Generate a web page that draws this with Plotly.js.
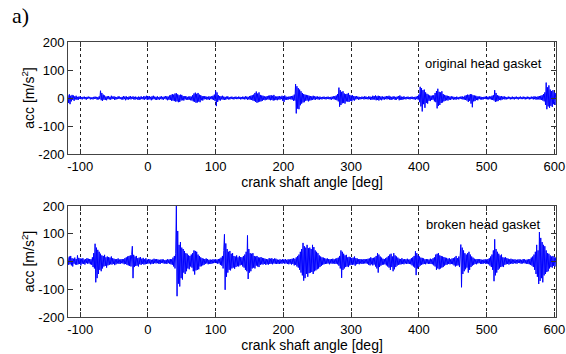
<!DOCTYPE html>
<html>
<head>
<meta charset="utf-8">
<script src="https://cdn.plot.ly/plotly-3.0.1.min.js"></script>
<style>html,body{margin:0;padding:0;background:#fff;}#chart{width:566px;height:354px;}</style>
</head>
<body>
<div id="chart"></div>
<script>
// crank shaft angle sampling grid [deg]
const angleStart = -118;
const angleStep = 1;

// original head gasket, acc [m/s^2], one value per degree from -118
const accOriginal = [
  10,-18,13,-22,8,-12,11,-7,9,-10, 6,-5,8,-6,4,-7,5,-3,6,-4,
  3,-5,4,-2,5,-4,3,-6,4,-3, 5,-2,4,-5,3,-4,2,-5,4,-3,
  5,-3,4,-6,3,-5,6,-4,26,-8, 18,-10,12,-6,9,-7,5,-8,6,-4,
  7,-5,4,-6,8,-4,5,-3,6,-7, 4,-5,3,-4,6,-3,5,-4,3,-5,
  4,-6,7,-4,5,-8,6,-5,3,-6, 5,-4,7,-5,4,-3,6,-5,4,-6,
  5,-4,3,-6,5,-7,4,-5,6,-4, 3,-5,7,-6,5,-4,8,-7,6,-5,
  7,-5,4,-8,6,-5,8,-4,5,-6, 4,-7,6,-5,3,-6,5,-4,6,-5,
  4,-6,5,-3,7,-5,6,-8,5,-6, 9,-7,11,-10,14,-9,12,-11,16,-13,
  17,-12,13,-15,10,-14,12,-9,11,-8, 7,-9,6,-5,7,-6,4,-7,5,-6,
  6,-8,5,-9,10,-12,16,-14,19,-17, 15,-16,18,-13,12,-15,10,-8,7,-9,
  6,-5,7,-4,5,-6,4,-5,6,-7, 5,-4,6,-5,8,-7,12,-10,26,-29,
  20,-14,10,-8,7,-9,6,-5,8,-6, 5,-7,4,-6,5,-4,6,-5,3,-5,
  4,-3,5,-4,3,-5,4,-3,5,-4, 3,-4,5,-3,4,-5,3,-4,5,-4,
  4,-5,6,-4,5,-6,4,-5,7,-6, 8,-7,10,-9,12,-11,18,-14,23,-17,
  16,-15,20,-13,11,-12,9,-10,8,-7, 6,-8,5,-6,7,-5,8,-6,9,-8,
  10,-7,8,-9,11,-8,6,-7,5,-8, 6,-5,7,-6,5,-4,8,-10,6,-14,
  9,-6,5,-7,4,-6,5,-4,6,-5, 7,-6,8,-10,12,-9,50,-55,42,-38,
  35,-40,30,-26,24,-20,18,-16,14,-15, 12,-10,11,-9,10,-12,8,-9,7,-8,
  6,-7,8,-5,6,-7,5,-4,6,-5, 4,-6,5,-4,3,-5,4,-3,5,-4,
  3,-5,4,-3,5,-4,3,-5,4,-6, 5,-4,6,-5,7,-6,9,-8,14,-12,
  37,-31,28,-25,22,-19,24,-18,16,-20, 14,-12,15,-13,18,-14,11,-10,9,-12,
  10,-8,7,-9,6,-5,7,-4,5,-6, 4,-5,3,-4,5,-3,4,-5,6,-4,
  5,-4,3,-5,6,-4,5,-7,4,-6, 8,-5,7,-6,9,-8,6,-7,8,-9,
  7,-6,5,-8,6,-5,4,-6,5,-4, 7,-5,6,-4,8,-6,5,-7,4,-5,
  6,-4,5,-7,4,-6,5,-3,7,-8, 9,-6,5,-7,4,-5,6,-4,3,-5,
  4,-3,5,-4,3,-5,4,-3,5,-4, 3,-5,4,-6,5,-4,7,-6,12,-15,
  40,-30,35,-48,28,-22,30,-35,20,-18, 15,-20,12,-10,9,-11,8,-7,9,-6,
  10,-12,18,-15,25,-37,33,-28,22,-25, 20,-18,24,-16,14,-12,11,-10,9,-8,
  8,-9,7,-6,5,-7,6,-4,5,-6, 4,-5,3,-6,5,-4,3,-5,4,-3,
  5,-4,6,-5,4,-6,8,-7,10,-9, 12,-14,11,-10,14,-20,13,-33,10,-12,
  9,-11,8,-7,6,-8,5,-4,6,-5, 4,-6,3,-5,4,-3,5,-4,6,-5,
  4,-5,6,-4,5,-6,8,-7,10,-9, 28,-14,18,-12,10,-11,8,-7,6,-8,
  7,-6,5,-4,6,-5,4,-5,3,-4, 5,-3,4,-5,3,-4,5,-4,3,-5,
  4,-3,5,-4,3,-5,4,-3,5,-4, 3,-4,5,-3,4,-5,3,-4,5,-3,
  4,-5,3,-4,5,-3,4,-5,6,-4, 5,-6,4,-5,6,-5,7,-6,8,-7,
  10,-9,14,-12,20,-25,55,-40,38,-30, 45,-35,30,-28,25,-32,28,-22,20,-25,
  18
];

// broken head gasket, acc [m/s^2], one value per degree from -118
const accBroken = [
  15,-12,18,-10,20,-14,12,-18,10,-8, 14,-11,9,-12,22,-10,13,-9,11,-14,
  10,-8,12,-9,7,-11,9,-6,12,-8, 10,-7,9,-10,8,-12,15,-20,30,-25,
  64,-75,50,-60,42,-45,35,-30,28,-35, 22,-25,20,-18,24,-16,15,-22,18,-14,
  16,-12,14,-10,18,-11,12,-9,10,-13, 8,-10,9,-7,11,-8,7,-9,8,-6,
  9,-7,8,-10,12,-9,15,-12,18,-14, 20,-16,22,-18,25,55,-60,24,-20,18,
  -16,20,-15,12,-18,14,-10,16,-12,10, -9,13,-11,8,-10,12,-9,7,-8,9,
  -7,8,-10,6,-8,7,-9,10,-6,8, -7,9,-6,7,-8,6,-9,7,-5,8,
  -6,7,-8,5,-7,6,-9,8,-6,7, -8,9,-10,8,-12,14,-18,20,-25,30,
  200,-125,110,-80,60,-90,70,-60,50,-65, 45,-40,38,-45,30,-35,28,-25,22,-28,
  20,-18,25,-22,30,-35,40,-47,38,-32, 35,-30,25,-28,20,-18,15,-17,12,-14,
  10,-12,9,-8,11,-7,9,-10,6,-8, 7,-9,6,-7,8,-6,7,-5,8,-6,
  7,-8,9,-7,10,-12,14,-15,20,-25, 40,98,-102,65,-55,45,-40,35,-30,38,
  -32,28,-25,30,-22,20,-26,18,-20,22, -17,15,-18,20,-14,16,-12,15,-18,20,
  -22,25,-30,35,-35,94,-63,45,-40,30, -35,28,-25,30,-22,20,-25,18,-15,20,
  -18,15,-20,14,-12,16,-10,13,-11,12, -9,10,-12,9,-10,8,-11,12,-9,10,
  -8,12,-10,9,-7,11,-8,10,-9,7, -8,6,-9,8,-7,6,-8,9,-6,7,
  -8,9,-7,6,-9,8,-10,7,-8,9, -11,10,-9,12,-14,10,-12,15,-18,20,
  -22,25,-30,35,-40,45,-50,67,-69,55, -60,50,-45,60,-55,48,-42,50,-40,45,
  -38,60,-45,52,-35,40,-32,35,-28,30, -25,22,-20,18,-16,15,-12,14,-10,12,
  -9,10,-8,11,-7,9,-10,8,-7,9, -8,10,-7,8,-9,10,-8,12,-10,14,
  -15,20,-25,40,-59,35,-30,28,-25,22, -20,24,-18,15,-20,17,-14,15,-12,13,
  -12,14,-11,18,-15,12,-10,11,-9,8, -10,9,-7,8,-9,7,-8,9,-7,8,
  -7,9,-8,10,-12,11,-14,15,-10,12, -14,13,-11,15,-18,20,-25,30,-40,25,
  -20,18,-15,14,-12,10,-11,9,-10,12, -14,15,-18,20,-22,25,-30,28,-20,18,
  -35,30,-28,22,-20,18,-15,14,-12,10, -11,9,-10,12,-9,8,-10,9,-7,8,
  -9,10,-8,7,-9,8,-10,12,-14,15, -18,20,-22,37,-49,30,-25,22,-20,18,
  -15,14,-12,13,-10,11,-9,8,-10,9, -7,8,-9,7,-8,10,-9,8,-10,12,
  -14,15,-18,25,-30,28,-25,30,-28,22, -25,20,-22,18,-20,16,-15,14,-12,13,
  -11,10,-9,12,-10,8,-9,11,-10,12, -14,15,-18,20,-15,12,-14,18,-20,25,
  61,-93,50,-45,40,-35,30,-28,25,-22, 30,-40,35,-30,25,-20,18,-15,14,-12,
  10,-9,8,-10,9,-7,8,-6,9,-8, 7,-9,6,-8,7,-6,8,-9,7,-8,
  9,-10,12,-15,18,-20,25,-30,40,-71, 80,-50,45,-40,35,-30,28,-25,22,-20,
  25,-18,15,-20,14,-12,15,-10,12,-9, 10,-11,8,-9,10,-7,8,-9,7,-6,
  8,-7,6,-8,7,-5,8,-6,7,-8, 6,-7,9,-6,8,-7,6,-8,7,-9,
  8,-10,9,-12,14,-15,18,-20,25,-30, 35,-45,60,-55,40,-81,106,-70,85,-60,
  70,-75,60,-50,55,-45,40,-38,30,-35, 28,-25,22,-20,18,-22,20,-16,15,-18,
  15
];

const xTicks = [-100, 0, 100, 200, 300, 400, 500, 600];
const yTicks = [-200, -100, 0, 100, 200];
const panelLabels = ['original head gasket', 'broken head gasket'];
const xTitle = 'crank shaft angle [deg]';
const yTitle = 'acc [m/s<sup>2</sup>]';
const figLabel = 'a)';

const anglesOf = arr => arr.map((_, i) => angleStart + i * angleStep);

const family = 'Arial, "Liberation Sans", sans-serif';
const tickFont = {family: family, size: 13, color: '#000'};
const titleFont = {family: family, size: 14, color: '#000'};
const lineStyle = {color: '#0000ff', width: 1};

const traces = [
  {x: anglesOf(accOriginal), y: accOriginal, type: 'scatter', mode: 'lines', line: lineStyle, xaxis: 'x', yaxis: 'y', hoverinfo: 'skip'},
  {x: anglesOf(accBroken), y: accBroken, type: 'scatter', mode: 'lines', line: lineStyle, xaxis: 'x2', yaxis: 'y2', hoverinfo: 'skip'}
];

function xAxis(anchor) {
  return {
    anchor: anchor, range: [-118, 602.5], tickvals: xTicks, ticktext: xTicks.map(String),
    ticks: 'inside', ticklen: 5, tickcolor: '#333', showline: true, linecolor: '#444', linewidth: 1, mirror: 'ticks',
    showgrid: true, gridcolor: '#222', griddash: 'dot', gridwidth: 1, zeroline: false,
    tickfont: tickFont, title: {text: xTitle, font: titleFont, standoff: 2}, automargin: false
  };
}
function yAxis(anchor, domain) {
  return {
    anchor: anchor, domain: domain, range: [-200, 200], tickvals: yTicks, ticktext: yTicks.map(String),
    ticks: 'inside', ticklen: 5, tickcolor: '#333', showline: true, linecolor: '#444', linewidth: 1, mirror: 'ticks',
    showgrid: false, zeroline: false, tickfont: tickFont, title: {text: yTitle, font: titleFont, standoff: 0}, automargin: false
  };
}

const annFont = {family: family, size: 13, color: '#000'};

const layout = {
  width: 566, height: 354,
  margin: {l: 68, r: 10, t: 42, b: 37},
  paper_bgcolor: '#fff', plot_bgcolor: '#fff',
  showlegend: false,
  font: tickFont,
  xaxis: xAxis('y'),
  yaxis: yAxis('x', [0.5927, 1]),
  xaxis2: xAxis('y2'),
  yaxis2: yAxis('x2', [0, 0.4036]),
  annotations: [
    {text: panelLabels[0], xref: 'x', yref: 'y', x: 585, y: 125, xanchor: 'right', yanchor: 'middle', showarrow: false, font: annFont},
    {text: panelLabels[1], xref: 'x2', yref: 'y2', x: 584, y: 135, xanchor: 'right', yanchor: 'middle', showarrow: false, font: annFont},
    {text: figLabel, xref: 'paper', yref: 'paper', x: -0.118, y: 1.098, xanchor: 'left', yanchor: 'middle', showarrow: false, font: {family: '"Liberation Serif", "Times New Roman", serif', size: 22, color: '#000'}}
  ]
};

Plotly.newPlot('chart', traces, layout, {staticPlot: true, displayModeBar: false});
</script>
</body>
</html>
